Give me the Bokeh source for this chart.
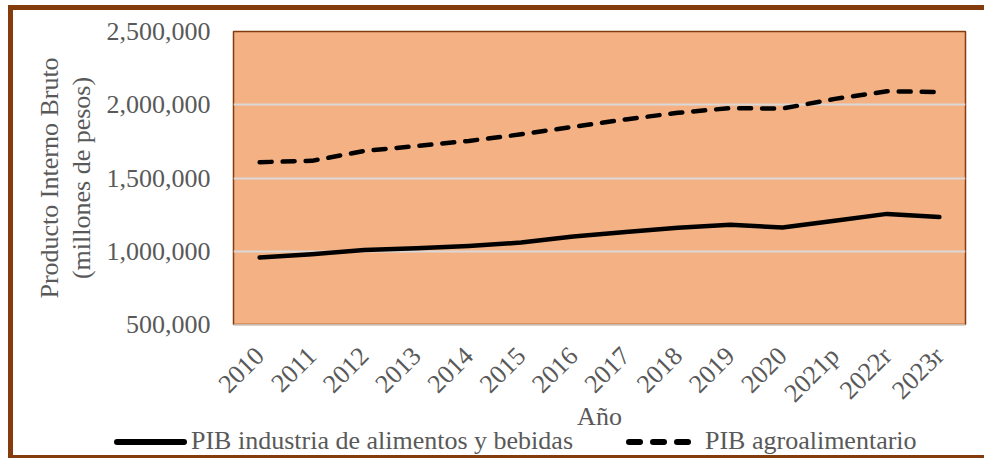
import math
from bokeh.plotting import figure
from bokeh.layouts import column
from bokeh.models import (FactorRange, Range1d, FixedTicker, NumeralTickFormatter,
                          ColumnDataSource, Div)
from bokeh.embed import file_html
from bokeh.resources import INLINE

years = ["2010", "2011", "2012", "2013", "2014", "2015", "2016", "2017",
         "2018", "2019", "2020", "2021p", "2022r", "2023r"]
pib_industria = [957000, 980000, 1009000, 1020000, 1036000, 1059000, 1100000,
                 1131000, 1161000, 1181000, 1162000, 1208000, 1255000, 1233000]
pib_agro = [1608000, 1617000, 1685000, 1718000, 1753000, 1798000, 1850000,
            1900000, 1945000, 1977000, 1974000, 2040000, 2092000, 2087000]
y_ticks = [500000, 1000000, 1500000, 2000000, 2500000]
series_labels = ["PIB industria de alimentos y bebidas", "PIB agroalimentario"]

FONT = "Liberation Serif"
GREY = "#595959"
BROWN = "#843C0C"
W = 971

src = ColumnDataSource(dict(x=years, ind=pib_industria, agro=pib_agro))

p = figure(width=W, height=423, output_backend="svg", toolbar_location=None,
           x_range=FactorRange(*years), y_range=Range1d(500000, 2500000),
           min_border_left=220, min_border_right=19, min_border_top=21,
           min_border_bottom=108)

p.background_fill_color = "#F4B183"
p.border_fill_color = "white"
p.outline_line_color = BROWN
p.outline_line_width = 1.5

p.xgrid.grid_line_color = None
p.ygrid.grid_line_color = "#D9D9D9"
p.ygrid.grid_line_width = 2

p.yaxis.ticker = FixedTicker(ticks=y_ticks)
p.yaxis.formatter = NumeralTickFormatter(format="0,0")
p.yaxis.axis_label = "Producto Interno Bruto\n(millones de pesos)"
p.xaxis.axis_label = "Año"

for ax in (p.xaxis[0], p.yaxis[0]):
    ax.major_tick_line_color = None
    ax.minor_tick_line_color = None
    ax.major_tick_out = 0
    ax.major_tick_in = 0
    ax.major_label_text_font = FONT
    ax.major_label_text_font_size = "26px"
    ax.major_label_text_color = GREY
    ax.axis_label_text_font = FONT
    ax.axis_label_text_font_size = "26px"
    ax.axis_label_text_font_style = "normal"
    ax.axis_label_text_color = GREY
    ax.axis_label_text_line_height = 1.1

p.yaxis.axis_line_color = None
p.yaxis.major_label_standoff = 23
p.yaxis.axis_label_standoff = 8
p.xaxis.axis_line_color = "#C8B8AE"
p.xaxis.major_label_orientation = math.pi / 4
p.xaxis.major_label_standoff = 27
p.xaxis.axis_label_standoff = -19

line_kw = dict(line_color="black", line_width=4.5, line_join="round", line_cap="round")
p.line("x", "ind", source=src, **line_kw)
p.line("x", "agro", source=src, line_dash="12 11", **line_kw)

# legend row below the chart (same labels and line styles as the series)
seg = "position:absolute;top:6px;height:6px;background:#000;border-radius:3px;"
txt = "position:absolute;top:-5px;line-height:1;white-space:nowrap;"
legend_html = (
    f'<div style="position:relative;width:{W}px;height:22px;font-family:\'{FONT}\';'
    f'font-size:26px;color:{GREY};overflow:visible;">'
    f'<span style="{seg}left:101px;width:73px;"></span>'
    f'<span style="{txt}left:178px;">{series_labels[0]}</span>'
    f'<span style="{seg}left:613px;width:17px;"></span>'
    f'<span style="{seg}left:637px;width:17px;"></span>'
    f'<span style="{seg}left:661px;width:17px;"></span>'
    f'<span style="{txt}left:692px;">{series_labels[1]}</span>'
    '</div>'
)
leg = Div(text=legend_html, width=W, height=22, margin=0,
          styles={"overflow": "visible"})

layout = column(p, leg, spacing=0)
layout.styles = {"border-left": f"5px solid {BROWN}", "border-top": f"5px solid {BROWN}",
                 "border-bottom": f"3px solid {BROWN}", "box-sizing": "content-box",
                 "margin-left": "8px", "margin-top": "5px"}

open("out.html", "w").write(file_html(layout, INLINE))
